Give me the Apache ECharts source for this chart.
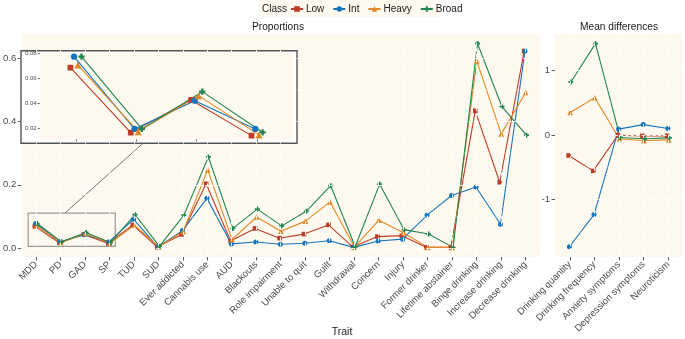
<!DOCTYPE html>
<html><head><meta charset="utf-8">
<script src="https://cdn.jsdelivr.net/npm/echarts@6/dist/echarts.min.js"></script>
<style>html,body{margin:0;padding:0;background:#fff}#c{width:685px;height:339px}</style>
</head><body><div id="c"></div>
<script>
const traits = ['MDD','PD','GAD','SP','TUD','SUD','Ever addicted','Cannabis use','AUD','Blackouts','Role impairment','Unable to quit','Guilt','Withdrawal','Concern','Injury','Former drinker','Lifetime abstainer','Binge drinking','Increase drinking','Decrease drinking'];
const traitsMD = ['Drinking quantity','Drinking frequency','Anxiety symptoms','Depression symptoms','Neuroticism'];
const classes = ['Low','Int','Heavy','Broad'];

const propLow   = [0.0685,0.0165,0.0427,0.0141,0.073,0.003,0.043,0.203,0.022,0.062,0.031,0.044,0.073,0.003,0.036,0.039,0.002,0.002,0.434,0.208,0.623];
const propInt   = [0.0773,0.0195,0.0421,0.0195,0.091,0.003,0.055,0.157,0.013,0.019,0.012,0.015,0.023,0.002,0.022,0.028,0.104,0.166,0.193,0.075,0.623];
const propHeavy = [0.0707,0.0173,0.0461,0.0147,0.072,0.004,0.052,0.247,0.027,0.098,0.053,0.085,0.146,0.003,0.088,0.048,0.002,0.002,0.592,0.361,0.492];
const propBroad = [0.0773,0.0195,0.0493,0.0168,0.106,0.005,0.104,0.288,0.062,0.123,0.070,0.116,0.197,0.004,0.202,0.058,0.044,0.002,0.647,0.447,0.357];

const mdLow   = [-0.32,-0.56,-0.005,-0.015,-0.015];
const mdInt   = [-1.74,-1.24,0.09,0.16,0.10];
const mdHeavy = [0.35,0.577,-0.06,-0.09,-0.077];
const mdBroad = [0.824,1.42,-0.04,-0.06,-0.047];

const yTicksProp = [0,0.2,0.4,0.6];
const yMinorProp = [0.1,0.3,0.5];
const yTicksMD = [-1,0,1];
const yMinorMD = [-1.5,-0.5,0.5,1.5];
const yTicksInset = [0.02,0.04,0.06,0.08];
const yMinorInset = [0.03,0.05,0.07];
const insetCount = 4;

const propData = [propLow, propInt, propHeavy, propBroad];
const mdData = [mdLow, mdInt, mdHeavy, mdBroad];
const colors = ['#BC3C29','#1675BA','#E18727','#20854E'];
const plusPath = 'path://M3.2,0H6.8V3.2H10V6.8H6.8V10H3.2V6.8H0V3.2H3.2Z';
const symbols = ['rect','circle','triangle',plusPath];
const symSizes = [4.6,5,5.6,5];
const dodge = [-0.092,-0.031,0.031,0.092];
const bg = '#FEF9EE';
const labelColor = '#4D4D4D';
const FONT = '"Liberation Sans", Arial, Helvetica, sans-serif';

const idx = (n) => Array.from({length:n}, (_, i) => i);

function xAx(grid, n, names, showLabels, z, tickLen) {
  return {
    type:'value', gridIndex:grid, min:-0.6, max:n-1+0.6, z:z, position:'bottom',
    axisLine:{show:false, onZero:false},
    axisTick:{show:true, customValues:idx(n), length:tickLen, lineStyle:{color:'#333', width:0.8}},
    axisLabel:{show:showLabels, customValues:idx(n), rotate:45, fontSize:9.6, color:labelColor, fontFamily:FONT, margin:6,
      formatter:(v)=> names[Math.round(v)]},
    splitLine:{show:false}
  };
}
function yAx(grid, min, max, ticks, fmt, fs, z, tickLen, margin) {
  return {
    type:'value', gridIndex:grid, min:min, max:max, z:z, position:'left',
    axisLine:{show:false, onZero:false},
    axisTick:{show:true, customValues:ticks, length:tickLen, lineStyle:{color:'#333', width:0.8}},
    axisLabel:{customValues:ticks, fontSize:fs, color:labelColor, fontFamily:FONT, margin:margin, formatter:fmt},
    splitLine:{show:false}
  };
}
function gridLines(xi, yi, n, major, minor, z) {
  const data = [];
  idx(n).forEach(i => data.push({xAxis:i, lineStyle:{color:'#fff', width:0.9}}));
  major.forEach(v => data.push({yAxis:v, lineStyle:{color:'#fff', width:0.9}}));
  minor.forEach(v => data.push({yAxis:v, lineStyle:{color:'#fff', width:0.45}}));
  return {type:'line', xAxisIndex:xi, yAxisIndex:yi, data:[], z:z, silent:true,
    markLine:{silent:true, symbol:['none','none'], label:{show:false}, animation:false, data:data}};
}

const series = [];
series.push(gridLines(0,0,traits.length,yTicksProp,yMinorProp,1));
series.push(gridLines(1,1,traitsMD.length,yTicksMD,yMinorMD,1));
series.push(gridLines(2,2,insetCount,yTicksInset,yMinorInset,8));
series.push({type:'line', xAxisIndex:0, yAxisIndex:0, data:[], z:3, silent:true,
  markArea:{silent:true, itemStyle:{color:'rgba(0,0,0,0)', borderColor:'#9a9a9a', borderWidth:1.2},
    data:[[{coord:[-0.32,0.005]},{coord:[3.24,0.11]}]]}});

classes.forEach((c, k) => {
  const common = {name:c, type:'line', symbol:symbols[k], symbolSize:symSizes[k], animation:false,
    itemStyle:{color:colors[k], borderWidth:0}, lineStyle:{color:colors[k], width:1.1}};
  series.push(Object.assign({}, common, {xAxisIndex:0, yAxisIndex:0, z:4,
    data: propData[k].map((v,i)=>[i+dodge[k]*0.5, v])}));
  series.push(Object.assign({}, common, {xAxisIndex:1, yAxisIndex:1, z:4,
    data: mdData[k].map((v,i)=>[i+dodge[k]*0.5, v])}));
  series.push(Object.assign({}, common, {xAxisIndex:2, yAxisIndex:2, z:10, symbolSize:symSizes[k]*1.25,
    data: propData[k].slice(0, insetCount).map((v,i)=>[i+dodge[k], v])}));
});

const option = {
  animation:false,
  textStyle:{fontFamily:FONT},
  grid:[
    {left:15, top:34, width:525, height:223, show:true, backgroundColor:bg, borderWidth:0},
    {left:555, top:34, width:128, height:223, show:true, backgroundColor:bg, borderWidth:0},
    {left:39.7, top:52.7, width:253.6, height:86.8, show:false}
  ],
  xAxis:[
    xAx(0, traits.length, traits, true, 0, 3.5),
    xAx(1, traitsMD.length, traitsMD, true, 0, 3.5),
    xAx(2, insetCount, traits, false, 10, 2)
  ],
  yAxis:[
    yAx(0, -0.0285, 0.677, yTicksProp, v=>v.toFixed(1), 9.6, 0, 3.5, 5),
    yAx(1, -1.9, 1.57, yTicksMD, v=>String(Math.round(v)), 9.6, 0, 3.5, 5),
    yAx(2, 0.011, 0.0805, yTicksInset, v=>v.toFixed(2), 6, 10, 2, 3)
  ],
  legend:{data:classes, left:290, top:4, itemWidth:12, itemHeight:7, itemGap:8,
    textStyle:{fontSize:10, color:'#1A1A1A', fontFamily:FONT, padding:[0,0,0,-2]}, padding:0},
  graphic:[
    {type:'rect', shape:{x:259, y:0, width:182, height:17}, style:{fill:bg}, z:0, silent:true},
    {type:'text', x:262, y:9, style:{text:'Class', fontSize:10, fill:'#1A1A1A', fontFamily:FONT, verticalAlign:'middle'}, silent:true},
    {type:'text', x:278, y:27, style:{text:'Proportions', fontSize:10.2, fill:'#1A1A1A', fontFamily:FONT, align:'center', verticalAlign:'middle'}, silent:true},
    {type:'text', x:619, y:27, style:{text:'Mean differences', fontSize:10.2, fill:'#1A1A1A', fontFamily:FONT, align:'center', verticalAlign:'middle'}, silent:true},
    {type:'text', x:342, y:332, style:{text:'Trait', fontSize:10.5, fill:'#1A1A1A', fontFamily:FONT, align:'center', verticalAlign:'middle'}, silent:true},
    {type:'line', shape:{x1:143, y1:143.3, x2:65, y2:213}, style:{stroke:'#555', lineWidth:0.8}, z:5, silent:true},
    {type:'rect', shape:{x:21, y:50.7, width:276, height:92.6}, style:{fill:'#fff', stroke:'#555', lineWidth:1.4}, z:5, silent:true},
    {type:'rect', shape:{x:39.7, y:52.7, width:253.6, height:86.8}, style:{fill:bg}, z:6, silent:true}
  ],
  series:series
};
const chart = echarts.init(document.getElementById('c'), null, {renderer:'canvas'});
chart.setOption(option);
</script></body></html>
